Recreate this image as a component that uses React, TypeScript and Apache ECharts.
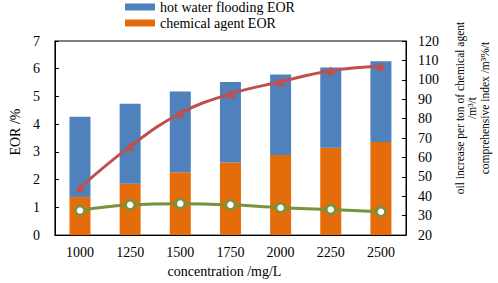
import React, { useEffect, useRef } from "react";
import * as echarts from "echarts";

const categories = ["1000", "1250", "1500", "1750", "2000", "2250", "2500"];
const chemicalEOR = [1.37, 1.85, 2.27, 2.62, 2.89, 3.15, 3.36];
const totalEOR = [4.27, 4.74, 5.18, 5.52, 5.79, 6.04, 6.27];
const oilIncrease = [44.4, 65.7, 82.8, 92.8, 99.0, 104.7, 107.0];
const compIndex = [32.7, 35.6, 36.2, 35.6, 34.1, 33.2, 32.0];

const hotWaterEOR = totalEOR.map((t, i) => +(t - chemicalEOR[i]).toFixed(2));

const FONT = "Liberation Serif";

export default function App() {
  const ref = useRef<HTMLDivElement>(null);
  useEffect(() => {
    document.body.style.margin = "0";
    const chart = echarts.init(ref.current!, null, { renderer: "svg" });
    chart.setOption({
      animation: false,
      textStyle: { fontFamily: FONT, color: "#000" },
      legend: {
        orient: "vertical",
        left: 125,
        top: 0,
        padding: 0,
        itemGap: 2,
        itemWidth: 30,
        itemHeight: 7,
        data: ["hot water flooding EOR", "chemical agent EOR"],
        textStyle: { fontFamily: FONT, fontSize: 14, color: "#000", lineHeight: 14 },
        icon: "rect",
      },
      grid: {
        left: 43,
        top: 41,
        right: 92,
        bottom: 37,
        show: true,
        borderColor: "#000",
        borderWidth: 1,
      },
      graphic: [
        {
          type: "text",
          x: 472,
          y: 108,
          rotation: Math.PI / 2,
          style: {
            text: "oil increase per ton of chemical agent\n/m\u00b3/t\ncomprehensive index /m\u00b3%/t",
            fontFamily: FONT,
            fontSize: 11.5,
            lineHeight: 12.5,
            fill: "#000",
            align: "center",
            verticalAlign: "middle",
          },
        },
      ],
      xAxis: {
        type: "category",
        data: categories,
        name: "concentration /mg/L",
        nameLocation: "middle",
        nameGap: 23,
        nameTextStyle: { fontFamily: FONT, fontSize: 14, color: "#000", padding: [0, 12, 0, 0] },
        axisLine: { lineStyle: { color: "#000", width: 1 } },
        axisTick: { inside: true, length: 4, lineStyle: { color: "#000" } },
        axisLabel: { fontFamily: FONT, fontSize: 14, color: "#000", margin: 10 },
      },
      yAxis: [
        {
          type: "value",
          min: 0,
          max: 7,
          interval: 1,
          name: "EOR /%",
          nameLocation: "middle",
          nameGap: 29,
          nameTextStyle: { fontFamily: FONT, fontSize: 14, color: "#000", padding: [0, 0, 0, 12] },
          axisLine: { show: true, lineStyle: { color: "#000", width: 1 } },
          axisTick: { show: true, inside: true, length: 4, lineStyle: { color: "#000" } },
          axisLabel: { fontFamily: FONT, fontSize: 14, color: "#000", margin: 15 },
          splitLine: { show: false },
        },
        {
          type: "value",
          min: 20,
          max: 120,
          interval: 10,
          position: "right",
          axisLine: { show: true, lineStyle: { color: "#000", width: 1 } },
          axisTick: { show: true, inside: true, length: 4, lineStyle: { color: "#000" } },
          axisLabel: { fontFamily: FONT, fontSize: 14, color: "#000", margin: 12 },
          splitLine: { show: false },
        },
      ],
      series: [
        {
          name: "chemical agent EOR",
          type: "bar",
          stack: "eor",
          barWidth: 21,
          data: chemicalEOR,
          itemStyle: { color: "#E46C0A" },
        },
        {
          name: "hot water flooding EOR",
          type: "bar",
          stack: "eor",
          barWidth: 21,
          data: hotWaterEOR,
          itemStyle: { color: "#4F81BD" },
        },
        {
          name: "oil increase",
          type: "line",
          yAxisIndex: 1,
          smooth: 0.4,
          data: oilIncrease,
          symbol: "triangle",
          symbolSize: 9,
          lineStyle: { color: "#C0504D", width: 3 },
          itemStyle: { color: "#C0504D" },
          z: 5,
        },
        {
          name: "comprehensive index",
          type: "line",
          yAxisIndex: 1,
          smooth: 0.4,
          data: compIndex,
          symbol: "circle",
          symbolSize: 9,
          showAllSymbol: true,
          lineStyle: { color: "#77933C", width: 3 },
          itemStyle: { color: "#fff", borderColor: "#77933C", borderWidth: 2.5 },
          z: 5,
        },
      ],
    });
    return () => chart.dispose();
  }, []);
  return <div ref={ref} style={{ width: 498, height: 283 }} />;
}
